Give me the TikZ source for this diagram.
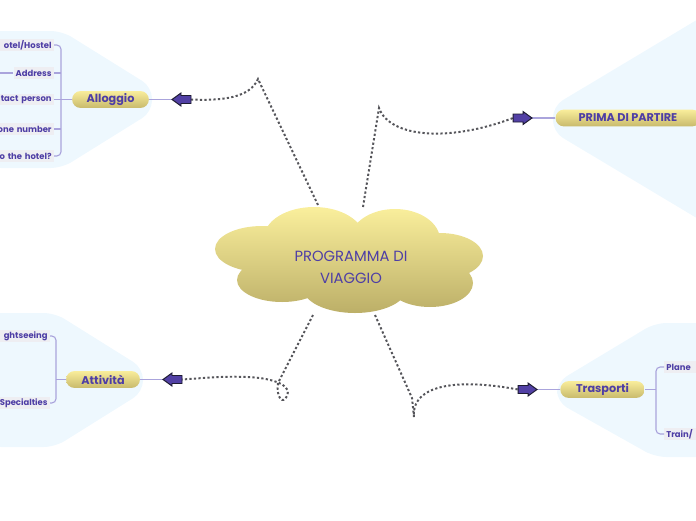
\documentclass[tikz,border=0pt]{standalone}
\usepackage{fontspec}
\setmainfont{Poppins}
\definecolor{ink}{RGB}{78,62,165}
\definecolor{pilltop}{RGB}{249,237,155}
\definecolor{pillbot}{RGB}{200,186,108}
\definecolor{cloudtop}{RGB}{250,239,156}
\definecolor{cloudbot}{RGB}{188,175,104}
\definecolor{zoneblue}{RGB}{238,248,254}
\definecolor{subgray}{RGB}{238,238,242}
\definecolor{linepurple}{RGB}{170,164,220}
\definecolor{dotgray}{RGB}{85,85,90}
\definecolor{arrowfill}{RGB}{82,64,165}
\definecolor{arrowedge}{RGB}{30,28,50}
\tikzset{
  pill/.style={rounded corners=6pt, top color=pilltop, bottom color=pillbot, text=ink,
    font=\bfseries\fontsize{8}{9}\selectfont, minimum height=12pt, inner sep=0pt},
  sub/.style={fill=subgray, text=ink, font=\bfseries\fontsize{6}{7}\selectfont,
    minimum height=8.5pt, inner xsep=1.5pt, inner ysep=0pt},
  subline/.style={draw=linepurple, line width=0.8pt},
  dotline/.style={draw=dotgray, line width=1.4pt, dash pattern=on 1.6pt off 1.6pt},
  blk/.style={fill=arrowfill, draw=arrowedge, line width=0.7pt},
  zone/.style={fill=zoneblue, rounded corners=8pt}
}
\begin{document}
\begin{tikzpicture}[x=0.025cm,y=-0.025cm]
    \useasboundingbox (0,0) rectangle (696,520);
    \clip (0,0) rectangle (696,520);
    % light zones behind the branches
    \fill[zone] (-10,31) -- (62,31) -- (152,87) -- (152,112) -- (62,168) -- (-10,168) -- cycle;
    \fill[zone] (-10,313) -- (55,313) -- (143,368) -- (143,392) -- (55,447) -- (-10,447) -- cycle;
    \fill[zone] (553,106) -- (710,12) -- (710,226) -- (553,132) -- cycle;
    \fill[zone] (557,382) -- (655,323) -- (710,323) -- (710,457) -- (655,457) -- (557,402) -- cycle;

    % cloud
    \coordinate (cA) at (318,205);
    \coordinate (cP) at (363,207);
    \coordinate (cT) at (313,315);
    \coordinate (cR) at (375,315);
    \coordinate (bA) at (258,79);
    \coordinate (bP) at (379,108);
    \coordinate (tailA) at (191,99.5);
    \coordinate (tipA) at (172,99.5);
    \coordinate (tailP) at (513,118);
    \coordinate (tipP) at (532,118);
    \coordinate (tailT) at (182,379.5);
    \coordinate (tipT) at (163,379.5);
    \coordinate (tailR) at (518,389.5);
    \coordinate (tipR) at (537,389.5);

    \draw[dotline] (cA) -- (bA) .. controls (250,97) and (225,101) .. (tailA);
    \draw[dotline] (cP) -- (bP) .. controls (390,138) and (450,142) .. (tailP);
    \draw[dotline] (cT) -- (278,383) .. controls (276,398) and (283,405) .. (287,396)
        .. controls (291,387) and (280,381) .. (260,378) .. controls (232,375) and (205,378) .. (tailT);
    \draw[dotline] (cR) -- (412,398) -- (414,417) .. controls (411,390) and (445,376) .. (tailR);

    \shade[top color=cloudtop, bottom color=cloudbot]
        (262,249) ellipse (47 and 23) (314,238) ellipse (50 and 31) (395,240) ellipse (45 and 31)
        (440,256) ellipse (43 and 23) (282,280) ellipse (45 and 22) (355,288) ellipse (52 and 25)
        (430,283) ellipse (43 and 24) (348,262) ellipse (90 and 35);
    \node[text=ink, align=center, font=\fontsize{10.5}{15.5}\selectfont] (viaggio) at (351,267) {PROGRAMMA DI\\VIAGGIO};

    % main topics
    \node[pill, minimum width=54.6pt] (alloggio) at (110.5,99.5) {Alloggio};
    \node[pill, minimum width=103pt] (prima) at (628,118) {PRIMA DI PARTIRE};
    \node[pill, minimum width=52.5pt] (attivita) at (103,379.5) {Attività};
    \node[pill, minimum width=60pt] (trasporti) at (602.5,389.5) {Trasporti};

    \draw[subline] (alloggio.east) -- (tipA);
    \draw[subline] (prima.west) -- (tipP);
    \draw[subline] (attivita.east) -- (tipT);
    \draw[subline] (trasporti.west) -- (tipR);

    \draw[blk] (tipA) -- ++(9,-6.5) -- ++(0,2.5) -- ++(10,0) -- ++(0,8) -- ++(-10,0) -- ++(0,2.5) -- cycle;
    \draw[blk] (tipT) -- ++(9,-6.5) -- ++(0,2.5) -- ++(10,0) -- ++(0,8) -- ++(-10,0) -- ++(0,2.5) -- cycle;
    \draw[blk] (tipP) -- ++(-9,-6.5) -- ++(0,2.5) -- ++(-10,0) -- ++(0,8) -- ++(10,0) -- ++(0,2.5) -- cycle;
    \draw[blk] (tipR) -- ++(-9,-6.5) -- ++(0,2.5) -- ++(-10,0) -- ++(0,8) -- ++(10,0) -- ++(0,2.5) -- cycle;

    % Alloggio
    \node[sub, anchor=east, text width=49pt, align=right] (hotel) at (54,45) {otel/Hostel};
    \node[sub, anchor=east] (address) at (54,73) {Address};
    \node[sub, anchor=east, text width=49pt, align=right] (contact) at (54,99.5) {tact person};
    \node[sub, anchor=east, text width=49pt, align=right] (phone) at (54,129) {one number};
    \node[sub, anchor=east, text width=49pt, align=right] (howto) at (54,156) {o the hotel?};
    \coordinate (brA) at (61,99.5);
    \draw[subline] (alloggio.west) -- (brA);
    \draw[subline, rounded corners=3pt] (hotel.east) -| (brA) |- (howto.east);
    \draw[subline] (address.east) -- (address.east -| brA);
    \draw[subline] (contact.east) -- (contact.east -| brA);
    \draw[subline] (phone.east) -- (phone.east -| brA);
    \draw[subline] (address.west) -- (-5,73);

    % Attivita
    \node[sub, anchor=east, text width=44pt, align=right] (sight) at (50,336) {ghtseeing};
    \node[sub, anchor=east, text width=44pt, align=right] (spec) at (50,403) {Specialties};
    \coordinate (brT) at (56,379.5);
    \draw[subline] (attivita.west) -- (brT);
    \draw[subline, rounded corners=3pt] (sight.east) -| (brT) |- (spec.east);

    % Trasporti
    \node[sub, anchor=west, text width=40pt, align=left] (plane) at (664,367) {Plane};
    \node[sub, anchor=west, text width=40pt, align=left] (train) at (664,434) {Train/};
    \coordinate (brR) at (656,389.5);
    \draw[subline] (trasporti.east) -- (brR);
    \draw[subline, rounded corners=3pt] (plane.west) -| (brR) |- (train.west);
\end{tikzpicture}
\end{document}
